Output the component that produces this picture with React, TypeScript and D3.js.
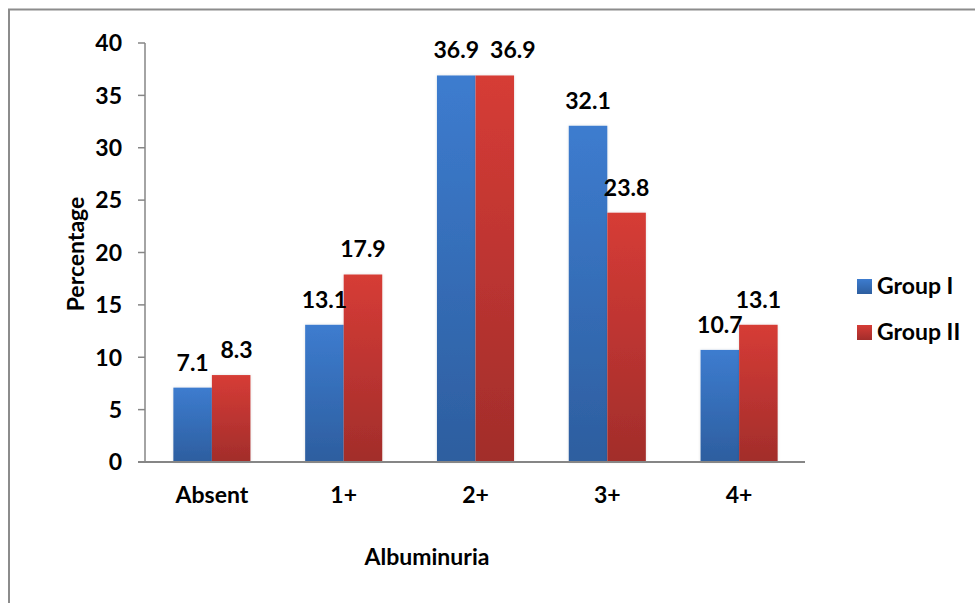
import React from "react";
import * as d3 from "d3";

const categories = ["Absent", "1+", "2+", "3+", "4+"];
const seriesNames = ["Group I", "Group II"];
const groupI = [7.1, 13.1, 36.9, 32.1, 10.7];
const groupII = [8.3, 17.9, 36.9, 23.8, 13.1];
const yTicks = [0, 5, 10, 15, 20, 25, 30, 35, 40];

const W = 975;
const H = 603;
const FONT = "Lato, 'Open Sans', sans-serif";
const FS = 23;

const palette = [
  { id: "gradBlue", top: "#3d7ccf", bottom: "#2d5e9f" },
  { id: "gradRed", top: "#d63c36", bottom: "#a22d2b" },
];

export default function App() {
  const y = d3.scaleLinear().domain([0, 40]).range([462, 43]);
  const x0 = d3.scaleBand<string>().domain(categories).range([146, 805]);
  const x1 = d3
    .scaleBand<string>()
    .domain(seriesNames)
    .range([0, x0.bandwidth()])
    .paddingInner(0)
    .paddingOuter(0.71);
  const series = [groupI, groupII];

  // value labels, pushed sideways when neighbouring labels would collide
  const labels: { key: string; x: number; y: number; text: string }[] = [];
  categories.forEach((c, i) => {
    let prev: { right: number; y: number } | null = null;
    seriesNames.forEach((s, k) => {
      const v = series[k][i];
      const text = v.toFixed(1);
      const w = text.length * 0.55 * FS;
      let cx = (x0(c) as number) + (x1(s) as number) + x1.bandwidth() / 2;
      const ly = y(v) - 17;
      if (prev && Math.abs(prev.y - ly) < FS && cx - w / 2 < prev.right + 6) {
        cx = prev.right + 6 + w / 2;
      }
      labels.push({ key: c + s, x: cx, y: ly, text });
      prev = { right: cx + w / 2, y: ly };
    });
  });

  return (
    <svg
      width={W}
      height={H}
      style={{ position: "absolute", left: 0, top: 0, background: "#fff" }}
      fontFamily={FONT}
    >
      <defs>
        {palette.map((p) => (
          <linearGradient key={p.id} id={p.id} x1="0" y1="0" x2="0" y2="1">
            <stop offset="0" stopColor={p.top} />
            <stop offset="1" stopColor={p.bottom} />
          </linearGradient>
        ))}
        <filter id="glow" x="-20%" y="-5%" width="140%" height="110%">
          <feGaussianBlur in="SourceAlpha" stdDeviation="1.5" result="blur" />
          <feFlood floodColor="#000" floodOpacity="0.12" />
          <feComposite in2="blur" operator="in" />
          <feMerge>
            <feMergeNode />
            <feMergeNode in="SourceGraphic" />
          </feMerge>
        </filter>
      </defs>

      {/* outer chart frame */}
      <rect x={9} y={9.5} width={W + 20} height={H + 20} fill="none" stroke="#8c8c8c" strokeWidth={2} />

      {/* bars */}
      {categories.map((c, i) => (
        <g key={c} transform={`translate(${x0(c)},0)`}>
          {seriesNames.map((s, k) => {
            const v = series[k][i];
            return (
              <rect
                key={s}
                x={x1(s)}
                y={y(v)}
                width={x1.bandwidth()}
                height={y(0) - y(v)}
                fill={`url(#${palette[k].id})`}
                filter="url(#glow)"
              />
            );
          })}
        </g>
      ))}

      {/* y axis */}
      <line x1={145} x2={145} y1={y(40)} y2={y(0)} stroke="#868686" strokeWidth={1.5} />
      {yTicks.map((t) => (
        <g key={t}>
          <line x1={138} x2={145} y1={y(t)} y2={y(t)} stroke="#868686" strokeWidth={1.5} />
          <text x={122} y={y(t)} dy="0.36em" textAnchor="end" fontSize={FS} fontWeight={700} fill="#000">
            {t}
          </text>
        </g>
      ))}

      {/* x axis */}
      <line x1={138} x2={805} y1={y(0)} y2={y(0)} stroke="#868686" strokeWidth={2} />
      {categories.map((c) => (
        <text
          key={c}
          x={(x0(c) as number) + x0.bandwidth() / 2}
          y={503}
          textAnchor="middle"
          fontSize={FS}
          fontWeight={700}
          fill="#000"
        >
          {c}
        </text>
      ))}

      {/* value labels */}
      {labels.map((l) => (
        <text key={l.key} x={l.x} y={l.y} textAnchor="middle" fontSize={FS} fontWeight={700} fill="#000">
          {l.text}
        </text>
      ))}

      {/* axis titles */}
      <text x={427} y={565} textAnchor="middle" fontSize={FS} fontWeight={700} fill="#000">
        Albuminuria
      </text>
      <text
        transform={`translate(84,254) rotate(-90)`}
        textAnchor="middle"
        fontSize={FS}
        fontWeight={700}
        fill="#000"
      >
        Percentage
      </text>

      {/* legend */}
      {seriesNames.map((s, k) => (
        <g key={s} transform={`translate(857,${279 + k * 46})`}>
          <rect width={15} height={15} fill={`url(#${palette[k].id})`} />
          <text x={20} y={15} fontSize={FS} fontWeight={700} fill="#000">
            {s}
          </text>
        </g>
      ))}
    </svg>
  );
}
